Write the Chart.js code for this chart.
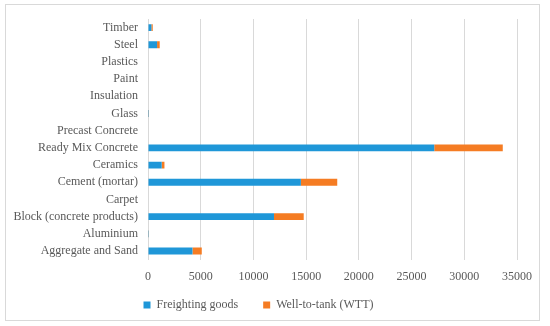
<!DOCTYPE html>
<html>
<head>
<meta charset="utf-8">
<script src="https://cdn.jsdelivr.net/npm/chart.js@4"></script>
<style>
  html, body { margin: 0; padding: 0; background: #fff; }
  #frame { position: absolute; left: 5px; top: 4px; width: 533px; height: 315px; border: 1px solid #d9d9d9; }
  #wrap { position: absolute; left: 0; top: 0; width: 550px; height: 326px; }
</style>
</head>
<body>
<div id="frame"></div>
<div id="wrap"><canvas id="chart" width="550" height="326"></canvas></div>
<script>
// materials, top to bottom as in the figure
const materials = ['Timber', 'Steel', 'Plastics', 'Paint', 'Insulation', 'Glass', 'Precast Concrete',
  'Ready Mix Concrete', 'Ceramics', 'Cement (mortar)', 'Carpet', 'Block (concrete products)',
  'Aluminium', 'Aggregate and Sand'];
const freighting = [320, 860, 0, 0, 0, 10, 0, 27150, 1300, 14500, 0, 11950, 15, 4220];
const wtt        = [130, 250, 0, 0, 0, 25, 0, 6500, 260, 3450, 0, 2820, 20, 880];
const xTicks = [0, 5000, 10000, 15000, 20000, 25000, 30000, 35000];

const serif = "'Liberation Serif', 'DejaVu Serif', serif";
const grey = '#595959';

// pull the legend up a little closer to the axis labels
const legendNudge = {
  id: 'legendNudge',
  afterLayout(chart) {
    chart.legend.top -= 20;
    chart.legend.bottom -= 20;
  }
};

new Chart(document.getElementById('chart'), {
  type: 'bar',
  data: {
    labels: materials,
    datasets: [
      { label: 'Freighting goods', data: freighting, backgroundColor: '#1f97d8',
        barPercentage: 0.5, categoryPercentage: 0.8 },
      { label: 'Well-to-tank (WTT)', data: wtt, backgroundColor: '#f57c23',
        barPercentage: 0.5, categoryPercentage: 0.8 }
    ]
  },
  options: {
    indexAxis: 'y',
    responsive: false,
    animation: false,
    layout: { padding: { left: 0, right: 33, top: 19, bottom: -15 } },
    plugins: {
      legend: {
        position: 'bottom',
        labels: {
          boxWidth: 7, boxHeight: 7, padding: 25,
          color: grey, font: { family: serif, size: 12 }
        }
      },
      tooltip: { enabled: false }
    },
    scales: {
      x: {
        stacked: true,
        min: 0, max: 35000,
        afterBuildTicks: (s) => { s.ticks = xTicks.map(v => ({ value: v })); },
        grid: { color: '#d9d9d9', drawTicks: false },
        border: { display: false },
        ticks: { color: grey, font: { family: serif, size: 12 }, padding: 10, maxRotation: 0,
          callback: (v) => String(v) }
      },
      y: {
        stacked: true,
        afterFit: (s) => { s.width = 148; },
        grid: { display: false, drawTicks: false },
        border: { display: true, color: '#d9d9d9' },
        ticks: { color: grey, font: { family: serif, size: 12 }, padding: 10, autoSkip: false }
      }
    }
  },
  plugins: [legendNudge]
});
</script>
</body>
</html>
